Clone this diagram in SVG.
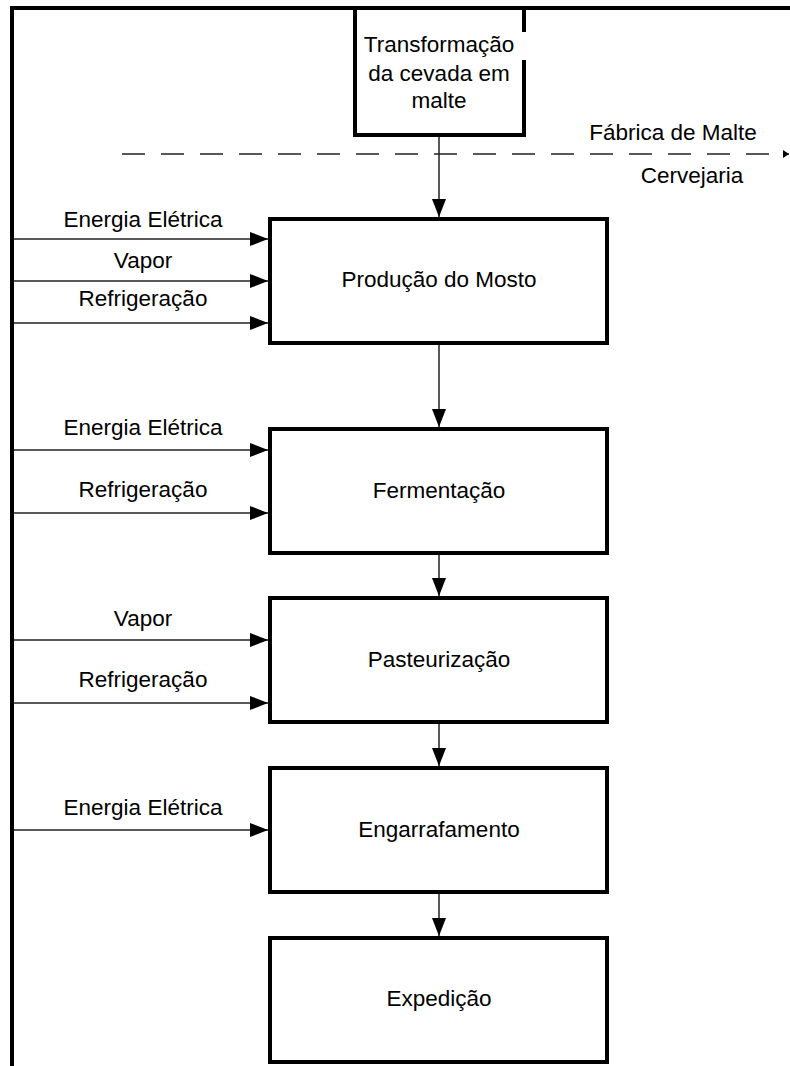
<svg xmlns="http://www.w3.org/2000/svg" width="790" height="1066" viewBox="0 0 790 1066">
  <style>
    text { font-family: "Liberation Sans", Arial, sans-serif; font-size: 22.5px; fill: #000; }
    .c { text-anchor: middle; }
    .box { fill: #fff; stroke: #000; stroke-width: 4; }
    .frame { fill: #000; }
    .flow { stroke: #222; stroke-width: 1.5; fill: none; }
    .dash { stroke: #222; stroke-width: 1.5; fill: none; stroke-dasharray: 23 16; }
  </style>
  <defs>
    <marker id="arr" markerUnits="userSpaceOnUse" markerWidth="18" markerHeight="14" refX="18" refY="7" orient="auto">
      <path d="M0,0 L18,7 L0,14 Z" fill="#000"/>
    </marker>
    <marker id="arrSmall" markerUnits="userSpaceOnUse" markerWidth="6" markerHeight="8" refX="6" refY="4" orient="auto">
      <path d="M0,0 L6,4 L0,8 Z" fill="#000"/>
    </marker>
  </defs>

  <rect width="790" height="1066" fill="#fff"/>

  <!-- malting plant / brewery boundary -->
  <g id="boundary">
    <line class="dash" x1="122" y1="154" x2="789" y2="154" marker-end="url(#arrSmall)"/>
    <text class="c" x="673" y="140">Fábrica de Malte</text>
    <text class="c" x="692" y="183">Cervejaria</text>
  </g>

  <g id="connectors">
    <line class="flow" x1="439" y1="137" x2="439" y2="217" marker-end="url(#arr)"/>
    <line class="flow" x1="439" y1="345" x2="439" y2="427" marker-end="url(#arr)"/>
    <line class="flow" x1="439" y1="555" x2="439" y2="596" marker-end="url(#arr)"/>
    <line class="flow" x1="439" y1="724" x2="439" y2="766" marker-end="url(#arr)"/>
    <line class="flow" x1="439" y1="894" x2="439" y2="936" marker-end="url(#arr)"/>

    <!-- utility inputs -->
    <line class="flow" x1="14" y1="239" x2="268" y2="239" marker-end="url(#arr)"/>
    <line class="flow" x1="14" y1="281" x2="268" y2="281" marker-end="url(#arr)"/>
    <line class="flow" x1="14" y1="323" x2="268" y2="323" marker-end="url(#arr)"/>
    <line class="flow" x1="14" y1="450" x2="268" y2="450" marker-end="url(#arr)"/>
    <line class="flow" x1="14" y1="513" x2="268" y2="513" marker-end="url(#arr)"/>
    <line class="flow" x1="14" y1="640" x2="268" y2="640" marker-end="url(#arr)"/>
    <line class="flow" x1="14" y1="703" x2="268" y2="703" marker-end="url(#arr)"/>
    <line class="flow" x1="14" y1="830" x2="268" y2="830" marker-end="url(#arr)"/>

    <text class="c" x="143" y="227">Energia Elétrica</text>
    <text class="c" x="143" y="268">Vapor</text>
    <text class="c" x="143" y="306">Refrigeração</text>
    <text class="c" x="143" y="435">Energia Elétrica</text>
    <text class="c" x="143" y="497">Refrigeração</text>
    <text class="c" x="143" y="626">Vapor</text>
    <text class="c" x="143" y="687">Refrigeração</text>
    <text class="c" x="143" y="815">Energia Elétrica</text>
  </g>

  <g id="malting">
    <rect class="box" x="355" y="8" width="169" height="127"/>
    <rect x="520" y="32" width="8" height="28" fill="#fff"/>
    <text class="c" x="439" y="52">Transformação</text>
    <text class="c" x="439" y="81">da cevada em</text>
    <text class="c" x="439" y="108">malte</text>
  </g>

  <g id="wort">
    <rect class="box" x="270" y="219" width="337" height="124"/>
    <text class="c" x="439" y="287">Produção do Mosto</text>
  </g>

  <g id="fermentation">
    <rect class="box" x="270" y="429" width="337" height="124"/>
    <text class="c" x="439" y="498">Fermentação</text>
  </g>

  <g id="pasteurization">
    <rect class="box" x="270" y="598" width="337" height="124"/>
    <text class="c" x="439" y="667">Pasteurização</text>
  </g>

  <g id="bottling">
    <rect class="box" x="270" y="768" width="337" height="124"/>
    <text class="c" x="439" y="837">Engarrafamento</text>
  </g>

  <g id="shipping">
    <rect class="box" x="270" y="938" width="337" height="124"/>
    <text class="c" x="439" y="1006">Expedição</text>
  </g>

  <!-- outer frame: top and left edges -->
  <g id="frame">
    <rect class="frame" x="10" y="6" width="780" height="4"/>
    <rect class="frame" x="10" y="6" width="4" height="1060"/>
  </g>
</svg>
